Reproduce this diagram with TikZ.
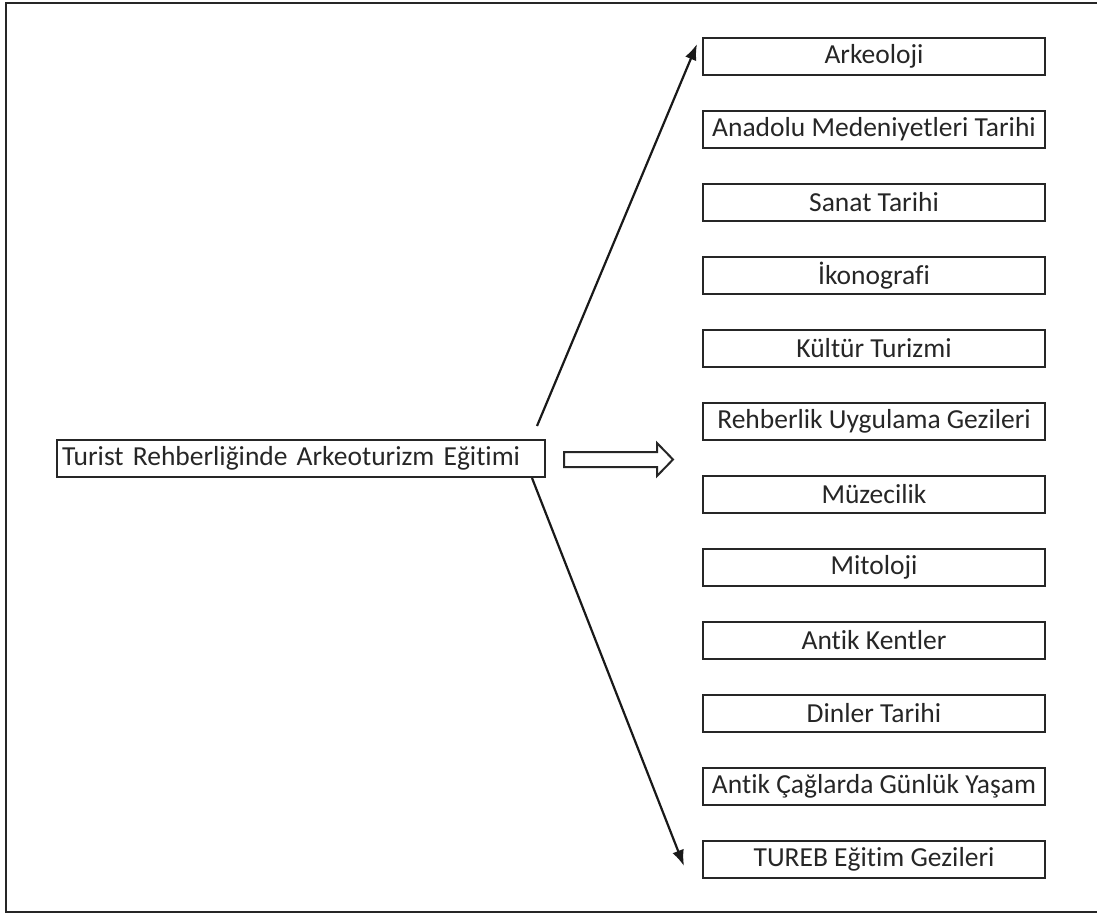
\documentclass[tikz,border=0pt]{standalone}
\usepackage{fontspec}
\setmainfont{Carlito}[Ligatures=NoCommon]
\usepackage{tikz}
\usetikzlibrary{arrows.meta}

\begin{document}
\begin{tikzpicture}[
    x=1pt, y=-1pt,
    topic/.style = {rectangle, draw=black!85, line width=2pt, minimum width=342pt, minimum height=37pt, inner xsep=2pt, inner ysep=0pt, text centered, text=black!85, font=\fontsize{27.5}{31}\selectfont},
    course/.style = {rectangle, draw=black!85, line width=2pt, minimum height=37pt, inner xsep=5pt, inner ysep=0pt, text width=478pt, align=left, text=black!85, font=\fontsize{27.5}{31}\selectfont},
    line/.style = {draw=black!90, -{Latex[length=16pt,width=12pt]}, line width=2.2pt},
    hollow/.style = {draw=black!85, fill=white, line width=2pt},
    frame/.style = {draw=black!85, line width=2.4pt}
]
    % Page and frame
    \clip (0,0) rectangle (1097,915);
    \draw [frame] (6,3) rectangle (1110,912);

    % Left
    \node [course] (training) at (301, 458.5) {Turist Rehberliğinde Arkeoturizm Eğitimi};

    % Right Column
    \node [topic] (arkeoloji) at (874, 56.5) {Arkeoloji};
    \node [topic] (anadolu) at (874, 129.5) {Anadolu Medeniyetleri Tarihi};
    \node [topic] (sanat) at (874, 202.5) {Sanat Tarihi};
    \node [topic] (ikonografi) at (874, 275.5) {İkonografi};
    \node [topic] (kultur) at (874, 348.5) {Kültür Turizmi};
    \node [topic] (rehberlik) at (874, 421.5) {Rehberlik Uygulama Gezileri};
    \node [topic] (muzecilik) at (874, 494.5) {Müzecilik};
    \node [topic] (mitoloji) at (874, 567.5) {Mitoloji};
    \node [topic] (kentler) at (874, 640.5) {Antik Kentler};
    \node [topic] (dinler) at (874, 713.5) {Dinler Tarihi};
    \node [topic] (yasam) at (874, 786.5) {Antik Çağlarda Günlük Yaşam};
    \node [topic] (tureb) at (874, 859.5) {TUREB Eğitim Gezileri};

    % Arrow ends
    \coordinate (upstart) at (537, 426);
    \coordinate (uptip) at (697, 44);
    \coordinate (downstart) at (532, 478);
    \coordinate (downtip) at (684, 866);

    % Arrows
    \draw [line] (upstart) -- (uptip);
    \draw [line] (downstart) -- (downtip);

    % Hollow arrow
    \draw [hollow] (564, 452) -- (657, 452) -- (657, 443) -- (673, 459.5) -- (657, 476) -- (657, 467) -- (564, 467) -- cycle;
\end{tikzpicture}
\end{document}
